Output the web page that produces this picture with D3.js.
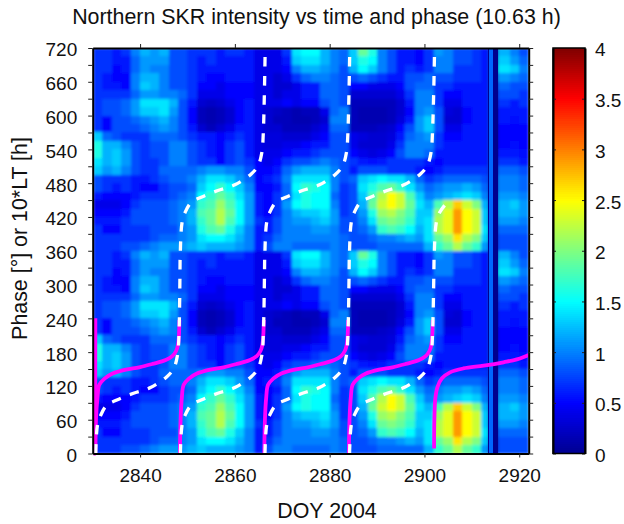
<!DOCTYPE html>
<html>
<head>
<meta charset="utf-8">
<style>
  html, body { margin: 0; padding: 0; background: #fff; }
  svg { display: block; }
  text { font-family: "Liberation Sans", Arial, sans-serif; fill: #111; }
</style>
<script src="https://cdn.jsdelivr.net/npm/d3@7"></script>
</head>
<body>
<div id="chart"></div>
<script>
// time bin edges (DOY 2004), narrow bins at the data gaps near 2914
var dayEdges = [2830, 2832, 2834, 2836, 2838, 2840, 2842, 2844, 2846, 2848, 2850, 2852, 2854, 2856, 2858, 2860,
    2862, 2864, 2866, 2868, 2870, 2872, 2874, 2876, 2878, 2880, 2882, 2884, 2886, 2888, 2890, 2892, 2894, 2896,
    2898, 2900, 2902, 2904, 2906, 2908, 2910, 2912, 2913.4, 2913.7, 2914.4, 2915.5, 2918, 2920, 2922];

// phase bin starts, top row first
var phaseBins = [345, 330, 315, 300, 285, 270, 255, 240, 225, 210, 195, 180, 165, 150, 135, 120, 105, 90, 75, 60, 45, 30, 15, 0];

// intensity, one row per phase bin, the 0-360 cycle is plotted twice
var intensity = [
    [.7,.7,.6,.7, 1.0,1.2,1.1,1.2, .8,.8,.7,.7, .7,.6,.7,.7, .6,.4,.4,.4, .7,1.4,1.5,1.5, 1.2,1.0,.9,1.3, 1.9,1.6,1.0,.8, .6,.6,.5,.7, 1.1,1.0,.8,.8, .7, .6,0,.9,0, 1.2,1.0,.8],
    [.7,.7,.6,.6, .9,1.1,1.1,1.1, .8,.8,.7,.6, .7,.6,.6,.6, .6,.4,.4,.4, .6,1.3,1.4,1.4, 1.2,1.0,.9,1.3, 1.6,1.5,1.0,.8, .6,.6,.5,.7, 1.0,1.0,.8,.8, .7, .6,0,.9,0, 1.3,1.1,.9],
    [.7,.7,.5,.6, .9,1.1,1.0,1.0, .8,.8,.7,.6, .6,.6,.6,.6, .6,.4,.4,.4, .5,1.0,1.2,1.2, 1.1,1.0,.8,1.2, 1.5,1.3,1.0,.8, .6,.7,.6,.7, 1.0,1.0,.7,.7, .7, .6,0,.9,0, 1.4,1.3,1.0],
    [.7,.6,.5,.5, 1.0,1.2,1.2,1.0, .8,.8,.7,.6, .5,.5,.6,.6, .6,.4,.4,.3, .4,.7,.9,1.0, 1.0,.9,.8,.8, .9,.8,.7,.6, .6,.8,.8,.9, .8,.8,.7,.7, .7, .6,0,.9,0, 1.1,1.0,.9],
    [.7,.6,.6,.5, 1.0,1.3,1.2,1.0, .8,.8,.7,.5, .5,.4,.5,.5, .5,.4,.4,.3, .3,.4,.6,.6, .9,.9,.8,.5, .5,.4,.4,.4, .5,.8,.9,.9, .7,.7,.6,.6, .6, .6,0,.9,0, .9,.8,.8],
    [.7,.7,.7,.7, .9,1.1,1.1,1.0, 1.0,.9,.7,.4, .4,.4,.5,.5, .5,.4,.4,.3, .4,.4,.6,.6, .9,.9,.8,.3, .3,.3,.3,.3, .4,.7,1.0,1.0, .7,.5,.5,.6, .6, .6,0,.9,0, .8,.8,.7],
    [.7,.8,.8,.9, 1.1,1.4,1.4,1.4, 1.2,.8,.6,.3, .25,.3,.4,.5, .6,.4,.4,.4, .5,.4,.5,.5, .8,.9,.8,.2, .2,.2,.2,.2, .3,.6,1.0,1.0, .7,.4,.4,.6, .6, .6,0,.9,0, .7,.6,.7],
    [.7,.8,.8,.9, 1.1,1.3,1.3,1.4, 1.1,.8,.5,.2, .15,.2,.3,.5, .6,.4,.3,.25, .2,.15,.2,.2, .4,.9,1.0,.2, .15,.15,.15,.2, .3,.5,1.0,1.1, .8,.35,.3,.5, .6, .6,0,.9,0, .6,.6,.6],
    [.7,.5,.8,.8, .9,1.0,1.1,1.2, 1.0,.8,.5,.2, .15,.2,.3,.5, .6,.4,.3,.2, .2,.15,.15,.2, .3,1.0,1.0,.2, .15,.15,.15,.2, .35,.6,1.1,1.3, .8,.3,.3,.5, .6, .6,0,.9,0, .6,.55,.6],
    [.7,.5,.8,.8, .8,.9,1.0,1.1, 1.0,.8,.6,.3, .2,.3,.4,.6, .6,.4,.3,.3, .2,.2,.2,.3, .4,.9,.9,.2, .2,.2,.25,.3, .5,.8,1.1,1.3, .8,.4,.4,.6, .6, .6,0,.9,0, .5,.5,.5],
    [1.3,.9,.8,.7, .7,.7,.9,.9, .9,.8,.7,.6, .6,.5,.6,.7, .6,.4,.35,.35, .3,.3,.3,.4, .5,.8,.8,.4, .35,.3,.3,.35, .6,.9,1.0,1.1, .7,.5,.5,.6, .6, .6,0,.9,0, .5,.5,.5],
    [1.6,1.2,1.2,1.0, .8,.7,.8,.8, 1.0,1.0,.8,.7, .6,.5,.7,.8, .6,.4,.35,.35, .4,.4,.5,.6, .6,.8,.8,.4, .3,.3,.3,.4, .7,1.0,1.0,1.0, .7,.6,.6,.6, .6, .6,0,.9,0, .5,.55,.5],
    [1.6,1.2,1.3,1.1, .8,.7,.8,.8, 1.0,1.0,.8,.7, .6,.5,.7,.8, .6,.4,.4,.4, .5,.6,.6,.7, .8,.8,.8,.5, .4,.35,.4,.5, .8,1.0,1.0,.9, .6,.6,.6,.6, .6, .6,0,.9,0, .6,.6,.55],
    [1.4,1.2,1.3,1.1, .8,.7,.7,.8, 1.0,1.0,.8,.7, .7,.5,.7,.8, .7,.5,.4,.5, .7,.8,.8,.9, 1.0,.9,.8,.7, .6,.55,.6,.7, .7,.7,.7,.6, .5,.6,.6,.6, .6, .6,0,.9,0, .7,.7,.6],
    [1.3,1.1,1.2,1.0, .8,.7,.7,.9, .9,.9,.9,1.0, 1.1,1.1,1.0,1.0, .8,.5,.5,.6, .9,1.1,1.2,1.2, 1.2,1.0,.8,.6, .8,.8,.8,.7, .7,.7,.6,.5, .6,.7,.7,.7, .7, .7,0,.9,0, .9,.9,.8],
    [.8,.7,.7,.7, .6,.6,.7,.8, .9,.9,1.0,1.2, 1.4,1.4,1.3,1.1, .9,.5,.6,.7, 1.0,1.4,1.4,1.4, 1.4,1.0,.8,.9, 1.3,1.4,1.5,1.4, 1.4,1.2,.9,.7, .8,.9,.9,.9, .9, .8,0,.9,0, 1.0,1.0,.9],
    [.8,.7,.6,.7, .6,.5,.5,.7, .8,.8,.9,1.3, 1.5,1.7,1.5,1.3, 1.0,.5,.5,.6, .9,1.5,1.7,1.6, 1.5,1.0,.7,.8, 1.4,1.6,1.8,1.9, 1.7,1.4,1.1,.9, 1.0,1.1,1.1,1.2, 1.1, .9,0,.9,0, 1.0,1.0,.9],
    [.6,.5,.5,.5, .6,.7,.7,.7, .8,.9,1.0,1.5, 1.7,1.9,1.7,1.4, 1.1,.6,.5,.7, .9,1.4,1.6,1.5, 1.5,.9,.7,.8, 1.3,1.8,2.2,2.5, 2.3,1.8,1.3,1.0, 1.1,1.2,1.3,1.4, 1.3, 1.0,0,.9,0, 1.1,1.1,1.0],
    [.4,.4,.4,.5, .7,.8,.8,.8, .9,1.0,1.1,1.7, 1.8,2.1,1.8,1.5, 1.1,.6,.5,.7, 1.1,1.5,1.6,1.5, 1.5,1.0,.7,.8, 1.2,1.9,2.3,2.5, 2.3,1.9,1.4,1.2, 1.8,2.2,2.7,2.3, 2.0, 1.2,0,.9,0, 1.2,1.3,1.1],
    [.5,.5,.5,.6, .8,.8,.8,.8, .9,1.0,1.2,1.8, 1.9,2.2,1.9,1.5, 1.1,.6,.5,.7, 1.0,1.2,1.3,1.3, 1.4,1.1,.7,.8, 1.1,1.6,2.1,2.2, 2.0,1.8,1.3,1.3, 2.1,2.4,2.9,2.5, 2.3, 1.3,0,.9,0, 1.2,1.2,1.1],
    [.6,.6,.6,.7, .8,.8,.8,.8, .9,1.0,1.2,1.7, 1.9,2.2,1.8,1.5, 1.1,.7,.6,.8, 1.0,1.1,1.1,1.2, 1.3,1.1,.8,.8, 1.0,1.4,1.9,2.0, 1.9,1.7,1.3,1.4, 2.2,2.4,2.9,2.5, 2.3, 1.3,0,.9,0, 1.1,1.1,1.0],
    [.7,.5,.5,.7, .7,.7,.8,.8, .8,1.0,1.1,1.6, 1.8,1.9,1.6,1.3, 1.0,.6,.6,.8, 1.0,1.0,1.0,1.1, 1.1,1.0,.8,.8, .9,1.1,1.7,1.8, 1.7,1.5,1.2,1.4, 2.2,2.4,2.9,2.5, 2.3, 1.4,0,.9,0, .9,.9,.9],
    [.7,.7,.7,.7, .7,.7,.8,.9, .9,1.0,1.1,1.4, 1.5,1.5,1.4,1.2, 1.0,.6,.7,.9, 1.0,1.0,1.0,1.0, 1.0,1.0,.9,.8, .8,.9,1.0,1.0, 1.1,1.2,1.1,1.4, 1.9,2.1,2.6,2.2, 2.0, 1.3,0,.9,0, .8,.8,.8],
    [.7,.7,.7,.8, .8,.9,1.0,1.1, 1.1,1.1,1.2,1.3, 1.2,1.2,1.2,1.1, 1.0,.6,.8,1.0, 1.0,.9,.9,.9, .9,1.0,.9,.8, .8,.8,.9,.9, .9,.9,.9,1.2, 1.7,1.9,2.2,1.9, 1.7, 1.1,0,.9,0, .8,.8,.8]
];

// magenta curve, one [doy, phase] list per branch
var magentaCurve = [
    [[2830.56,240],[2830.56,0],[2830.7,62],[2831,98],[2831.4,122],[2832.5,133],[2834.2,142],[2837,149],[2839.8,153],[2842.6,159],[2845.4,166],[2846.8,173],[2847.6,182],[2848,193],[2848.2,210],[2848.3,237]],
    [[2848.4,0],[2848.55,62],[2848.8,98],[2849.2,122],[2850.3,133],[2852,142],[2854.8,149],[2857.6,153],[2860.4,159],[2863.2,166],[2864.6,173],[2865.4,182],[2865.8,193],[2866,210],[2866.1,237]],
    [[2866.2,0],[2866.35,62],[2866.6,98],[2867,122],[2868.1,133],[2869.8,142],[2872.6,149],[2875.4,153],[2878.2,159],[2881,166],[2882.4,173],[2883.2,182],[2883.6,193],[2883.8,210],[2883.9,237]],
    [[2884.05,0],[2884.2,62],[2884.45,98],[2884.85,122],[2885.95,133],[2887.65,142],[2890.45,149],[2893.25,153],[2896.05,159],[2898.85,166],[2900.25,173],[2901.05,182],[2901.45,193],[2901.65,210],[2901.75,237]],
    [[2902.04,9],[2902.1,62],[2902.3,98],[2902.75,118],[2903.66,133],[2905.4,144],[2908.2,151],[2912.5,156],[2916.7,162],[2919.5,167],[2922,175]]
];

// white dashed curve, one [doy, phase] list per branch
var whiteCurve = [
    [[2830.65,0],[2831,50],[2831.7,68],[2833,86],[2835.1,95],[2838.6,107],[2842.2,117],[2845.6,136],[2847.1,151],[2847.9,175],[2848.2,210],[2848.45,360]],
    [[2848.5,360],[2848.85,410],[2849.5,428],[2850.8,446],[2852.9,455],[2856.4,467],[2860,477],[2863.4,496],[2864.9,511],[2865.7,535],[2866,570],[2866.4,720]],
    [[2848.5,0],[2848.85,50],[2849.5,68],[2850.8,86],[2852.9,95],[2856.4,107],[2860,117],[2863.4,136],[2864.9,151],[2865.7,175],[2866,210],[2866.3,360]],
    [[2866.35,360],[2866.7,410],[2867.35,428],[2868.65,446],[2870.75,455],[2874.25,467],[2877.85,477],[2881.25,496],[2882.75,511],[2883.55,535],[2883.85,570],[2884.25,720]],
    [[2866.35,0],[2866.7,50],[2867.35,68],[2868.65,86],[2870.75,95],[2874.25,107],[2877.85,117],[2881.25,136],[2882.75,151],[2883.55,175],[2883.85,210],[2884.15,360]],
    [[2884.2,360],[2884.55,410],[2885.2,428],[2886.5,446],[2888.6,455],[2892.1,467],[2895.7,477],[2899.1,496],[2900.6,511],[2901.4,535],[2901.7,570],[2902.15,720]],
    [[2884.2,0],[2884.55,50],[2885.2,68],[2886.5,86],[2888.6,95],[2892.1,107],[2895.7,117],[2899.1,136],[2900.6,151],[2901.4,175],[2901.7,210],[2902.05,360]],
    [[2902.1,360],[2902.5,410],[2903.2,428],[2904.7,445]]
];

var xTicks = [2840, 2860, 2880, 2900, 2920];
var yTicks = [0, 30, 60, 90, 120, 150, 180, 210, 240, 270, 300, 330, 360, 390, 420, 450, 480, 510, 540, 570, 600, 630, 660, 690, 720];
var barTicks = [0, 0.5, 1, 1.5, 2, 2.5, 3, 3.5, 4];
var jetStops = [0, 0.5, 1.5, 2.5, 3.5, 4];
var jetColors = ["#00008f", "#0000ff", "#00ffff", "#ffff00", "#ff0000", "#800000"];

var titleText = "Northern SKR intensity vs time and phase (10.63 h)";
var xLabel = "DOY 2004";
var yLabel = "Phase [\u00b0] or 10*LT [h]";

var left = 92.7, right = 528.7, top_ = 48, bottom = 453.5;
var barLeft = 553, barRight = 585;
var tickFont = 19, labelFont = 21.4;

var svg = d3.select("#chart").append("svg")
    .attr("width", 624)
    .attr("height", 524);

var defs = svg.append("defs");
defs.append("clipPath").attr("id", "plot-clip")
    .append("rect")
    .attr("x", left)
    .attr("y", top_)
    .attr("width", right - left)
    .attr("height", bottom - top_);
defs.append("filter").attr("id", "soften")
    .attr("filterUnits", "userSpaceOnUse")
    .attr("x", 0).attr("y", 0).attr("width", 624).attr("height", 524)
    .append("feGaussianBlur")
    .attr("stdDeviation", 1.4);

var x = d3.scaleLinear().domain([2830, 2922]).range([left, right]);
var y = d3.scaleLinear().domain([0, 720]).range([bottom, top_]);
var z = d3.scaleLinear().domain(jetStops).range(jetColors).clamp(true);

function drawCells(parent, keep) {
    [0, 360].forEach(function(offset) {
        parent.append("g").selectAll("g")
            .data(intensity)
            .enter().append("g")
            .selectAll("rect")
            .data(function(row, i) {
                return row.map(function(v, j) { return {value: v, col: j, phase: phaseBins[i] + offset}; }).filter(keep);
            })
            .enter().append("rect")
            .attr("shape-rendering", "crispEdges")
            .attr("x", function(d) { return x(dayEdges[d.col]); })
            .attr("y", function(d) { return y(d.phase + 15); })
            .attr("width", function(d) { return x(dayEdges[d.col + 1]) - x(dayEdges[d.col]); })
            .attr("height", function(d) { return y(d.phase) - y(d.phase + 15); })
            .attr("fill", function(d) { return z(d.value); });
    });
}

// soft cells first, then the thin gap columns stay sharp on top
var plot = svg.append("g").attr("clip-path", "url(#plot-clip)");
var soft = plot.append("g").attr("filter", "url(#soften)");
drawCells(soft, function() { return true; });
drawCells(plot, function(d) { return d.col >= 42 && d.col <= 44; });

var line = d3.line()
    .x(function(d) { return x(d[0]); })
    .y(function(d) { return y(d[1]); })
    .curve(d3.curveCatmullRom);

svg.append("g").selectAll("path")
    .data(magentaCurve)
    .enter().append("path")
    .attr("d", line)
    .attr("fill", "none")
    .attr("stroke", "#ff00ff")
    .attr("stroke-width", 3.8);

svg.append("g").selectAll("path")
    .data(whiteCurve)
    .enter().append("path")
    .attr("d", line)
    .attr("fill", "none")
    .attr("stroke", "#fff")
    .attr("stroke-width", 3.3)
    .attr("stroke-dasharray", "9.5,9.5");

function yFormat(d) { return d % 60 === 0 ? d : ""; }

var bottomAxis = svg.append("g")
    .attr("transform", "translate(0," + bottom + ")")
    .call(d3.axisBottom(x).tickValues(xTicks).tickSize(4).tickSizeOuter(0).tickPadding(11.5).tickFormat(d3.format("d")));
svg.append("g")
    .attr("transform", "translate(0," + top_ + ")")
    .call(d3.axisTop(x).tickValues(xTicks).tickSize(4).tickSizeOuter(0).tickFormat(""));
var leftAxis = svg.append("g")
    .attr("transform", "translate(" + left + ",0)")
    .call(d3.axisLeft(y).tickValues(yTicks).tickSize(4.5).tickSizeOuter(0).tickPadding(11).tickFormat(yFormat));
svg.append("g")
    .attr("transform", "translate(" + right + ",0)")
    .call(d3.axisRight(y).tickValues(yTicks).tickSize(4.5).tickSizeOuter(0).tickFormat(""));

// colour bar
var barY = d3.scaleLinear().domain([0, 4]).range([bottom, top_]);
var barSteps = d3.range(0, 4, 0.02);

svg.append("g").selectAll("rect")
    .data(barSteps)
    .enter().append("rect")
    .attr("shape-rendering", "crispEdges")
    .attr("x", barLeft)
    .attr("width", barRight - barLeft)
    .attr("y", function(d) { return barY(d + 0.02); })
    .attr("height", function(d) { return barY(d) - barY(d + 0.02) + 0.5; })
    .attr("fill", function(d) { return z(d + 0.01); });

var rightBarAxis = svg.append("g")
    .attr("transform", "translate(" + barRight + ",0)")
    .call(d3.axisRight(barY).tickValues(barTicks).tickSize(-3).tickSizeOuter(0).tickPadding(10).tickFormat(d3.format("")));
svg.append("g")
    .attr("transform", "translate(" + barLeft + ",0)")
    .call(d3.axisLeft(barY).tickValues(barTicks).tickSize(-3).tickSizeOuter(0).tickFormat(""));
svg.append("rect")
    .attr("x", barLeft)
    .attr("y", top_)
    .attr("width", barRight - barLeft)
    .attr("height", bottom - top_)
    .attr("fill", "none")
    .attr("stroke", "#000")
    .attr("stroke-width", 1.5);

svg.selectAll(".domain").attr("stroke", "#000").attr("stroke-width", 2);
svg.selectAll(".tick line").attr("stroke", "#222").attr("stroke-width", 1);
svg.selectAll(".tick text")
    .attr("font-size", tickFont)
    .attr("font-family", "Liberation Sans, Arial, sans-serif");
leftAxis.selectAll(".tick text").attr("dy", "0.42em");
rightBarAxis.selectAll(".tick text").attr("dy", "0.42em");

svg.append("text")
    .attr("x", 316.5)
    .attr("y", 23.5)
    .attr("text-anchor", "middle")
    .attr("font-size", labelFont)
    .text(titleText);

svg.append("text")
    .attr("x", 327)
    .attr("y", 518)
    .attr("text-anchor", "middle")
    .attr("font-size", labelFont)
    .text(xLabel);

svg.append("text")
    .attr("transform", "translate(27,238.5) rotate(-90)")
    .attr("text-anchor", "middle")
    .attr("font-size", labelFont)
    .text(yLabel);
</script>
</body>
</html>
